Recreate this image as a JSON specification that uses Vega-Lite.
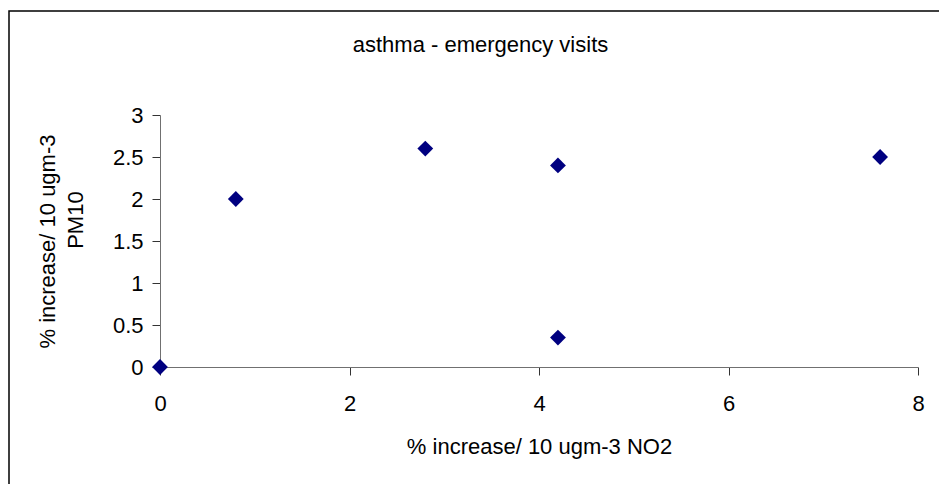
{
  "$schema": "https://vega.github.io/schema/vega-lite/v6.json",
  "width": 933,
  "height": 476,
  "autosize": "none",
  "padding": {"left": 9, "top": 11, "right": -3, "bottom": -3},
  "background": "white",
  "title": {
    "text": "asthma - emergency visits",
    "font": "Liberation Sans",
    "fontSize": 22,
    "fontWeight": "normal",
    "color": "#000000",
    "anchor": "middle",
    "frame": "group",
    "baseline": "alphabetic",
    "offset": -63,
    "dx": 5
  },
  "data": {
    "values": [
      {"no2": 0, "pm10": 0},
      {"no2": 0.8, "pm10": 2.0},
      {"no2": 2.8, "pm10": 2.6},
      {"no2": 4.2, "pm10": 2.4},
      {"no2": 4.2, "pm10": 0.35},
      {"no2": 7.6, "pm10": 2.5}
    ]
  },
  "mark": {
    "type": "point",
    "shape": "diamond",
    "filled": true,
    "size": 250,
    "color": "#000080",
    "opacity": 1
  },
  "encoding": {
    "x": {
      "field": "no2",
      "type": "quantitative",
      "scale": {"domain": [0, 8], "range": [151, 909], "nice": false, "zero": false},
      "axis": {
        "title": "% increase/ 10 ugm-3 NO2",
        "values": [0, 2, 4, 6, 8],
        "offset": -120,
        "labelPadding": 18,
        "titlePadding": 22
      }
    },
    "y": {
      "field": "pm10",
      "type": "quantitative",
      "scale": {"domain": [0, 3], "range": [356, 104], "nice": false, "zero": false},
      "axis": {
        "title": ["% increase/ 10 ugm-3", "\u200b\u00a0\u00a0\u00a0\u00a0\u00a0\u00a0\u00a0PM10"],
        "values": [0, 0.5, 1, 1.5, 2, 2.5, 3],
        "format": ".1~f",
        "offset": -151,
        "labelPadding": 9,
        "titlePadding": 25,
        "titleLineHeight": 28
      }
    }
  },
  "config": {
    "view": {"stroke": "#000000", "strokeWidth": 1.5},
    "axis": {
      "grid": false,
      "labelFont": "Liberation Sans",
      "labelFontSize": 22,
      "labelColor": "#000000",
      "labelFlush": false,
      "labelOverlap": false,
      "titleFont": "Liberation Sans",
      "titleFontSize": 22,
      "titleFontWeight": "normal",
      "titleColor": "#000000",
      "domainColor": "#707070",
      "domainWidth": 1,
      "tickColor": "#333333",
      "tickSize": 8
    }
  }
}
